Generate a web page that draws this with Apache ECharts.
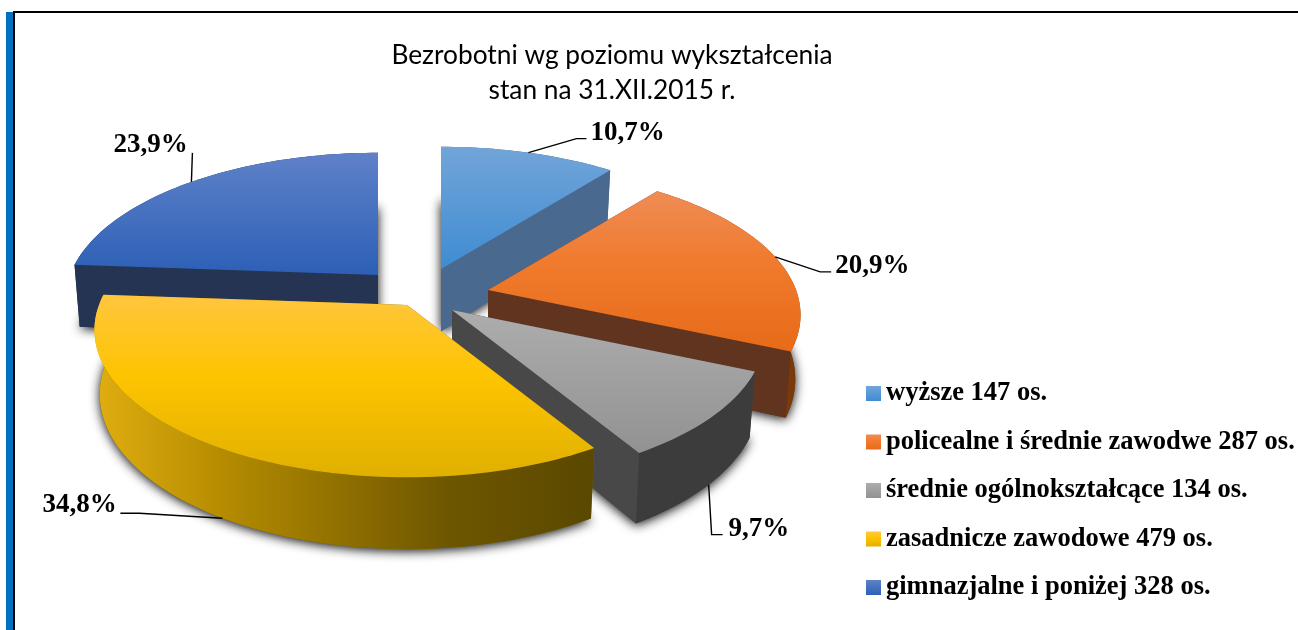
<!DOCTYPE html>
<html><head><meta charset="utf-8">
<style>html,body{margin:0;padding:0;background:#fff}#c{width:1298px;height:630px}</style>
<script src="https://cdn.jsdelivr.net/npm/echarts@6/dist/echarts.min.js"></script>
</head><body><div id="c"></div>
<script>
// ---- data ----
const categories = ['wyższe','policealne i średnie zawodwe','średnie ogólnokształcące','zasadnicze zawodowe','gimnazjalne i poniżej'];
const values = [147,287,134,479,328];
const unit = 'os.';
const titleLines = ['Bezrobotni wg poziomu wykształcenia','stan na 31.XII.2015 r.'];

// ---- styling / layout (no data) ----
const drawOrder = [4,0,1,2,3];
const center = [410,290];
const explode = [[31,-21],[78,0],[42,20],[-3,15],[-32,-15]];
const proj = {A:308,B:143,k:0.17,h0:117.5,h1:55,sx:0.983};
const topColors = [
  [[0,'#72a5d9'],[1,'#3f8cd2']],
  [[0,'#ef8c55'],[0.45,'#f07a2d'],[1,'#e76b18']],
  [[0,'#adadad'],[1,'#929292']],
  [[0,'#ffc63f'],[0.45,'#fdc400'],[1,'#e0b000']],
  [[0,'#5f81c9'],[1,'#2c60b6']]
];
const wallColors = ['#49698f','#613420','#484848','#7a6000','#253453'];
const rimColors = [
  '#49698f','#7a3a0a','#3c3c3c',
  {type:'linear',x:0,y:0,x2:1,y2:0,colorStops:[{offset:0,color:'#e0ae10'},{offset:0.27,color:'#b38a00'},{offset:0.7,color:'#6f5700'},{offset:1,color:'#5a4800'}]},
  '#253453'
];
// leader geometry relative to the computed rim anchor
const leaders = [
  {onBase:false,pts:[[48,-14],[58,-14]],label:[62,-20]},
  {onBase:false,pts:[[45,15],[56,15]],label:[60,9]},
  {onBase:true, pts:[[3,50],[14,50]],label:[20,44]},
  {onBase:true, pts:[[-83,-5],[-102,-5]],label:[-180,-13]},
  {onBase:false,pts:[[1,-29]],label:[-78,-37]}
];
const labelFont = 'bold 27px "Liberation Serif"';

const total = values.reduce((a,b)=>a+b,0);
const cumBefore = values.map((_,i)=>values.slice(0,i).reduce((a,b)=>a+b,0));
const pct = v => (v/total*100).toFixed(1).replace('.',',')+'%';
const legendName = i => categories[i]+' '+values[i]+' '+unit;
const vGrad = stops => ({type:'linear',x:0,y:0,x2:0,y2:1,colorStops:stops.map(s=>({offset:s[0],color:s[1]}))});

// perspective projection of a point on the disc; th clockwise from 12 o'clock
function topPt(o,th){
  const u=Math.sin(th),v=Math.cos(th),w=1+proj.k*v;
  return [o[0]+proj.A*u/w, o[1]-proj.B*v/w];
}
function basePt(o,th){
  const u=Math.sin(th),v=Math.cos(th),w=1+proj.k*v;
  return [o[0]+proj.sx*proj.A*u/w, o[1]-proj.B*v/w+proj.h0-proj.h1*w];
}
function renderSlice(i){
  return function(params,api){
    const value=api.value(0), before=api.value(1);
    const a0=before/total*2*Math.PI, a1=(before+value)/total*2*Math.PI;
    const o=[center[0]+explode[i][0],center[1]+explode[i][1]];
    const oB=[o[0],o[1]+proj.h0-proj.h1];
    const n=Math.max(8,Math.ceil((a1-a0)*40));
    const arcT=[],arcB=[];
    for(let j=0;j<=n;j++){const t=a0+(a1-a0)*j/n;arcT.push(topPt(o,t));arcB.push(basePt(o,t));}
    const mid=(a0+a1)/2, L=leaders[i];
    const anchor=L.onBase?basePt(o,mid):topPt(o,mid);
    const linePts=[anchor].concat(L.pts.map(p=>[anchor[0]+p[0],anchor[1]+p[1]]));
    const poly=(points,style)=>({type:'polygon',shape:{points},style,silent:true});
    return {type:'group',children:[
      poly([oB].concat(arcB),{fill:wallColors[i],shadowBlur:11,shadowColor:'rgba(0,0,0,0.95)',shadowOffsetY:2}),
      poly([o,arcT[0],arcB[0],oB],{fill:wallColors[i]}),
      poly([o,arcT[n],arcB[n],oB],{fill:wallColors[i]}),
      poly(arcT.concat(arcB.slice().reverse()),{fill:rimColors[i]}),
      poly([o].concat(arcT),{fill:vGrad(topColors[i])}),
      {type:'polyline',shape:{points:linePts},style:{stroke:'#000',lineWidth:1.4,fill:null},silent:true},
      {type:'text',silent:true,style:{x:anchor[0]+L.label[0],y:anchor[1]+L.label[1],text:pct(value),
        font:labelFont,fill:'#000',textAlign:'left',textVerticalAlign:'middle'}}
    ]};
  };
}

const chart = echarts.init(document.getElementById('c'),null,{renderer:'canvas'});
chart.setOption({
  animation:false,
  backgroundColor:'#fff',
  title:{
    text:titleLines.join('\n'),left:607,top:33,textAlign:'center',
    textStyle:{fontFamily:'Lato',fontWeight:'normal',fontSize:26.3,lineHeight:35,color:'#000'}
  },
  legend:{
    orient:'vertical',left:861,top:375,itemWidth:15,itemHeight:15,itemGap:21.5,
    icon:'rect',selectedMode:false,
    textStyle:{fontFamily:'Liberation Serif',fontWeight:'bold',fontSize:26.5,color:'#000'},
    data:categories.map((_,i)=>({name:legendName(i),icon:'rect',itemStyle:{color:vGrad(topColors[i])}}))
  },
  graphic:[
    {type:'rect',shape:{x:6,y:12,width:8,height:618},style:{fill:'#0070c0'},silent:true},
    {type:'rect',shape:{x:13,y:11,width:2,height:619},style:{fill:'#000'},silent:true},
    {type:'rect',shape:{x:13,y:11,width:1285,height:2},style:{fill:'#000'},silent:true}
  ],
  series:drawOrder.map((i,rank)=>({
    type:'custom',name:legendName(i),z:2+rank,coordinateSystem:'none',
    renderItem:renderSlice(i),
    dimensions:['value','before'],
    data:[[values[i],cumBefore[i]]],
    itemStyle:{color:topColors[i][0][1]}
  }))
});
</script></body></html>
